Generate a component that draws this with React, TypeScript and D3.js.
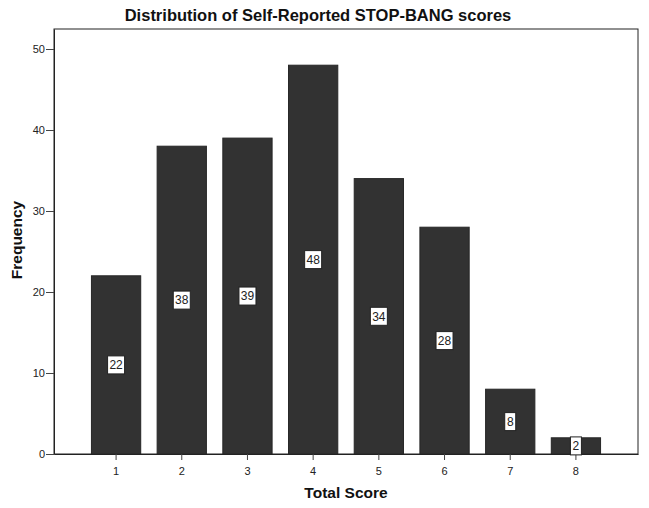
import * as d3 from 'd3';
import { useEffect, useRef } from 'react';

const scores = ['1', '2', '3', '4', '5', '6', '7', '8'];
const frequencies = [22, 38, 39, 48, 34, 28, 8, 2];
const yTicks = [0, 10, 20, 30, 40, 50];

const BarChart = () => {
    const svgRef = useRef<SVGSVGElement>(null);

    useEffect(() => {
        const w = 649;
        const h = 508;
        const left = 54;
        const right = 638;
        const top = 29;
        const bottom = 454;
        const font = 'Arial, "Liberation Sans", sans-serif';

        d3.select(svgRef.current).selectAll('*').remove();

        const svg = d3
            .select(svgRef.current)
            .attr('width', w)
            .attr('height', h)
            .style('font-family', font);

        const xScale = d3
            .scaleBand<string>()
            .domain(scores)
            .range([left, right])
            .paddingInner(0.25)
            .paddingOuter(0.57);

        const yScale = d3
            .scaleLinear()
            .domain([0, (bottom - top) / 8.1])
            .range([bottom, top]);

        // plot frame
        svg.append('rect')
            .attr('x', left)
            .attr('y', top)
            .attr('width', right - left)
            .attr('height', bottom - top)
            .attr('fill', 'white')
            .attr('stroke', '#222')
            .attr('stroke-width', 1);

        const data = scores.map((s, i) => ({ s, v: frequencies[i] }));

        svg.selectAll('rect.bar')
            .data(data)
            .enter()
            .append('rect')
            .attr('class', 'bar')
            .attr('x', (d) => xScale(d.s)!)
            .attr('y', (d) => yScale(d.v))
            .attr('width', xScale.bandwidth())
            .attr('height', (d) => bottom - yScale(d.v))
            .attr('fill', '#323232')
            .attr('stroke', '#262626')
            .attr('stroke-width', 1);

        // axes
        const xAxis = d3.axisBottom(xScale).tickSize(6).tickSizeOuter(0);
        const gx = svg
            .append('g')
            .attr('transform', `translate(0, ${bottom})`)
            .call(xAxis);
        gx.select('.domain').attr('stroke', '#222');
        gx.selectAll('.tick line').attr('stroke', '#444');
        gx.selectAll('.tick text')
            .attr('font-family', font)
            .attr('font-size', 11)
            .attr('fill', '#222')
            .attr('dy', '1.05em');

        const yAxis = d3
            .axisLeft(yScale)
            .tickValues(yTicks)
            .tickSize(8)
            .tickSizeOuter(0);
        const gy = svg
            .append('g')
            .attr('transform', `translate(${left}, 0)`)
            .call(yAxis);
        gy.select('.domain').attr('stroke', '#222');
        gy.selectAll('.tick line').attr('stroke', '#444');
        gy.selectAll('.tick text')
            .attr('font-family', font)
            .attr('font-size', 11)
            .attr('fill', '#222')
            .attr('x', -9);

        // value labels
        const labels = svg
            .selectAll('g.lbl')
            .data(data)
            .enter()
            .append('g')
            .attr('class', 'lbl')
            .attr(
                'transform',
                (d) =>
                    `translate(${xScale(d.s)! + xScale.bandwidth() / 2}, ${yScale(d.v / 2)})`
            );
        labels
            .append('rect')
            .attr('x', (d) => (String(d.v).length > 1 ? -8.5 : -5.5))
            .attr('y', -9)
            .attr('width', (d) => (String(d.v).length > 1 ? 17 : 11))
            .attr('height', 18)
            .attr('fill', 'white')
            .attr('stroke', '#222')
            .attr('stroke-width', 1);
        labels
            .append('text')
            .attr('text-anchor', 'middle')
            .attr('dy', '0.36em')
            .attr('font-size', 12)
            .attr('fill', '#222')
            .text((d) => d.v);

        svg.append('text')
            .attr('x', 318)
            .attr('y', 21)
            .attr('text-anchor', 'middle')
            .attr('font-size', 16.5)
            .attr('font-weight', 'bold')
            .attr('fill', '#111')
            .text('Distribution of Self-Reported STOP-BANG scores');

        svg.append('text')
            .attr('x', (left + right) / 2)
            .attr('y', 498)
            .attr('text-anchor', 'middle')
            .attr('font-size', 15.5)
            .attr('font-weight', 'bold')
            .attr('fill', '#111')
            .text('Total Score');

        svg.append('text')
            .attr('transform', 'rotate(-90)')
            .attr('x', -240)
            .attr('y', 22)
            .attr('text-anchor', 'middle')
            .attr('font-size', 15.5)
            .attr('font-weight', 'bold')
            .attr('fill', '#111')
            .text('Frequency');
    }, []);

    return <svg ref={svgRef} style={{ display: 'block' }}></svg>;
};

function App() {
    return (
        <div style={{ position: 'absolute', left: 0, top: 0 }}>
            <BarChart />
        </div>
    );
}

export default App;
